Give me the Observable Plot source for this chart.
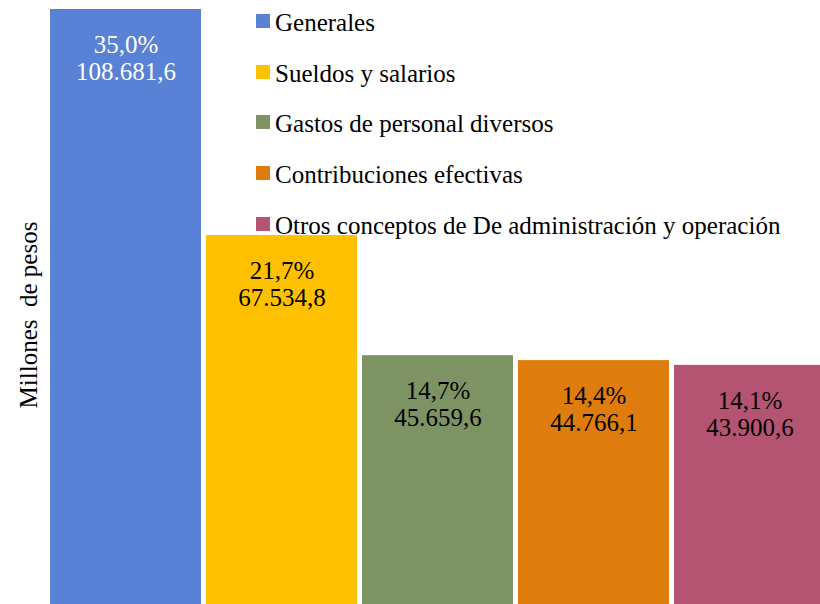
<!DOCTYPE html>
<html><head><meta charset="utf-8">
<script src="https://cdn.jsdelivr.net/npm/d3@7"></script>
<script src="https://cdn.jsdelivr.net/npm/@observablehq/plot@0.6"></script>
<style>
html,body{margin:0;padding:0;background:#fff;overflow:hidden}
#wrap{position:relative;width:820px;height:604px}
#legend{position:absolute;left:256px;top:-2px}
.lg-swatches{font-family:'Liberation Serif','Times New Roman',Times,'DejaVu Serif',serif !important;font-size:25px !important;margin:0 !important;color:#000}
.lg-swatch{display:flex !important;align-items:center;height:50.6px;padding:0 !important;margin:0 !important}
.lg-swatch svg{margin-right:5px !important;transform:translateY(-2px)}
.lg-swatch-label{white-space:nowrap;overflow:visible !important}
#chart svg, #chart svg text{font-family:'Liberation Serif','Times New Roman',Times,'DejaVu Serif',serif !important}
</style></head><body><div id="wrap"><div id="chart"></div><div id="legend"></div></div>
<script>
const categories = ["Generales", "Sueldos y salarios", "Gastos de personal diversos", "Contribuciones efectivas", "Otros conceptos de De administración y operación"];
const values = [108681.6, 67534.8, 45659.6, 44766.1, 43900.6];
const percents = [35.0, 21.7, 14.7, 14.4, 14.1];
const yLabel = "Millones  de pesos";

const colors = ["#5981D6", "#FFC000", "#7E9364", "#DE7D0E", "#B55472"];
const labelColors = ["white", "black", "black", "black", "black"];

const locale = d3.formatLocale({decimal: ",", thousands: ".", grouping: [3], currency: ["$", ""]});
const fmt = locale.format(",.1f");
const data = categories.map((c, i) => ({category: c, value: values[i], label: fmt(percents[i]) + "%\n" + fmt(values[i])}));

const font = "'Liberation Serif', 'Times New Roman', Times, 'DejaVu Serif', serif";
const plot = Plot.plot({
  width: 820, height: 604,
  marginTop: 0, marginBottom: 0, marginLeft: 50, marginRight: 0,
  style: {fontFamily: font, background: "white"},
  x: {domain: categories, range: [50, 825], paddingInner: 5 / 156, paddingOuter: 0, axis: null},
  y: {domain: [0, d3.max(values)], range: [606, 9], axis: null},
  color: {domain: categories, range: colors},
  marks: [
    Plot.barY(data, {x: "category", y: "value", fill: "category"}),
    Plot.text(data, {filter: (d, i) => labelColors[i] === "white", x: "category", y: "value", text: "label", fill: "white", fontSize: 25, lineAnchor: "top", lineHeight: 1.08, dy: 24}),
    Plot.text(data, {filter: (d, i) => labelColors[i] === "black", x: "category", y: "value", text: "label", fill: "black", fontSize: 25, lineAnchor: "top", lineHeight: 1.08, dy: 24}),
    Plot.text([yLabel], {frameAnchor: "left", textAnchor: "middle", rotate: -90, fontSize: 25, dx: -22, dy: 12.5, fill: "black"})
  ]
});
document.getElementById("chart").appendChild(plot);
const leg = plot.legend("color", {legend: "swatches", columns: 1, swatchSize: 14, className: "lg"});
document.getElementById("legend").appendChild(leg);
</script></body></html>
